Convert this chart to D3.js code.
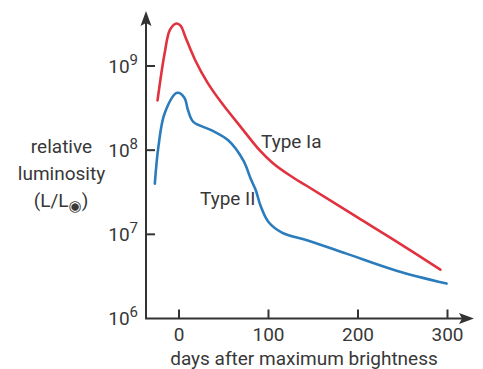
<!DOCTYPE html>
<html>
<head>
<meta charset="utf-8">
<script src="https://cdn.jsdelivr.net/npm/d3@7"></script>
<style>
  html, body { margin: 0; padding: 0; background: #fff; }
  svg { display: block; }
  text { font-family: Roboto, "Noto Sans", sans-serif; fill: #383838; }
</style>
</head>
<body>
<svg id="chart" width="483" height="369"></svg>
<script>
// ---- data ----
const typeIaDays = [-24, -16, -10, -3, 2, 7, 18, 32, 48, 70, 90, 105, 124, 143, 199, 240, 292];
const typeIaLum  = [3.9e8, 1.43e9, 2.7e9, 3.2e9, 3.0e9, 2.23e9, 1.18e9, 6.3e8, 3.6e8, 1.83e8, 1.0e8, 7.0e7, 5.0e7, 3.75e7, 1.6e7, 8.6e6, 3.8e6];
const typeIIDays = [-27, -23, -16, -2, 6, 10, 16, 36, 55, 72, 80, 86, 91, 100, 115, 143, 187, 243, 299];
const typeIILum  = [4.0e7, 1.1e8, 2.75e8, 4.8e8, 4.2e8, 3.0e8, 2.17e8, 1.73e8, 1.31e8, 7.5e7, 4.6e7, 3.3e7, 2.2e7, 1.4e7, 1.05e7, 8.5e6, 5.9e6, 3.7e6, 2.6e6];
const xTicks = [0, 100, 200, 300];
const yTicks = [1e6, 1e7, 1e8, 1e9];
const yTickExp = ["6", "7", "8", "9"];
const seriesNames = ["Type Ia", "Type II"];
const yLabelLines = ["relative", "luminosity"];
const xLabel = "days after maximum brightness";

// ---- layout ----
const svg = d3.select("#chart");
const x = d3.scaleLinear().domain([0, 300]).range([179, 447.5]);
const y = d3.scaleLog().domain([1e6, 1e9]).range([318.5, 66]);
const axisX0 = 146, axisY0 = 318.5;
const axisColor = "#333";

// curves
const line = d3.line().x(d => x(d[0])).y(d => y(d[1])).curve(d3.curveCatmullRom.alpha(0.5));
const ia = typeIaDays.map((d, i) => [d, typeIaLum[i]]);
const ii = typeIIDays.map((d, i) => [d, typeIILum[i]]);
svg.append("path").attr("d", line(ia)).attr("fill", "none").attr("stroke", "#e0323f").attr("stroke-width", 2.6).attr("stroke-linecap", "round");
svg.append("path").attr("d", line(ii)).attr("fill", "none").attr("stroke", "#2a7cbc").attr("stroke-width", 2.6).attr("stroke-linecap", "round");

// axes lines
svg.append("line").attr("x1", axisX0).attr("x2", axisX0).attr("y1", axisY0).attr("y2", 22)
  .attr("stroke", axisColor).attr("stroke-width", 2);
svg.append("line").attr("x1", axisX0 - 1).attr("x2", 462).attr("y1", axisY0).attr("y2", axisY0)
  .attr("stroke", axisColor).attr("stroke-width", 2);
// arrowheads
svg.append("path").attr("d", `M${axisX0},11 L${axisX0 + 5.5},26 L${axisX0},23 L${axisX0 - 5.5},26 Z`).attr("fill", axisColor);
svg.append("path").attr("d", `M474,${axisY0} L459,${axisY0 - 5.5} L462,${axisY0} L459,${axisY0 + 5.5} Z`).attr("fill", axisColor);

// y ticks
yTicks.forEach((t, i) => {
  if (i > 0) {
    svg.append("line").attr("x1", axisX0).attr("x2", axisX0 + 9).attr("y1", y(t)).attr("y2", y(t))
      .attr("stroke", axisColor).attr("stroke-width", 2);
  }
  const tx = svg.append("text").attr("x", 138).attr("y", y(t) + 6.5).attr("text-anchor", "end").attr("font-size", 19);
  tx.append("tspan").text("10");
  tx.append("tspan").attr("dy", -8).attr("font-size", 15).text(yTickExp[i]);
});

// x ticks
xTicks.forEach(t => {
  svg.append("line").attr("x1", x(t)).attr("x2", x(t)).attr("y1", axisY0).attr("y2", axisY0 - 9)
    .attr("stroke", axisColor).attr("stroke-width", 2);
  svg.append("text").attr("x", x(t)).attr("y", 341).attr("text-anchor", "middle").attr("font-size", 19).text(t);
});

// axis titles
svg.append("text").attr("x", 304).attr("y", 365).attr("text-anchor", "middle").attr("font-size", 19).text(xLabel);
yLabelLines.forEach((s, i) => {
  svg.append("text").attr("x", 61.5).attr("y", 153 + i * 27).attr("text-anchor", "middle").attr("font-size", 19).text(s);
});
const unit = svg.append("text").attr("x", 61).attr("y", 207).attr("text-anchor", "middle").attr("font-size", 19);
unit.append("tspan").text("(L/L");
unit.append("tspan").attr("dy", 4).attr("font-size", 15).attr("font-family", "DejaVu Sans").text("\u25C9");
unit.append("tspan").attr("dy", -4).text(")");

// series labels
svg.append("text").attr("x", 261).attr("y", 148).attr("font-size", 19).attr("fill", "#444").text(seriesNames[0]);
svg.append("text").attr("x", 200).attr("y", 205).attr("font-size", 19).attr("fill", "#444").text(seriesNames[1]);
</script>
</body>
</html>
